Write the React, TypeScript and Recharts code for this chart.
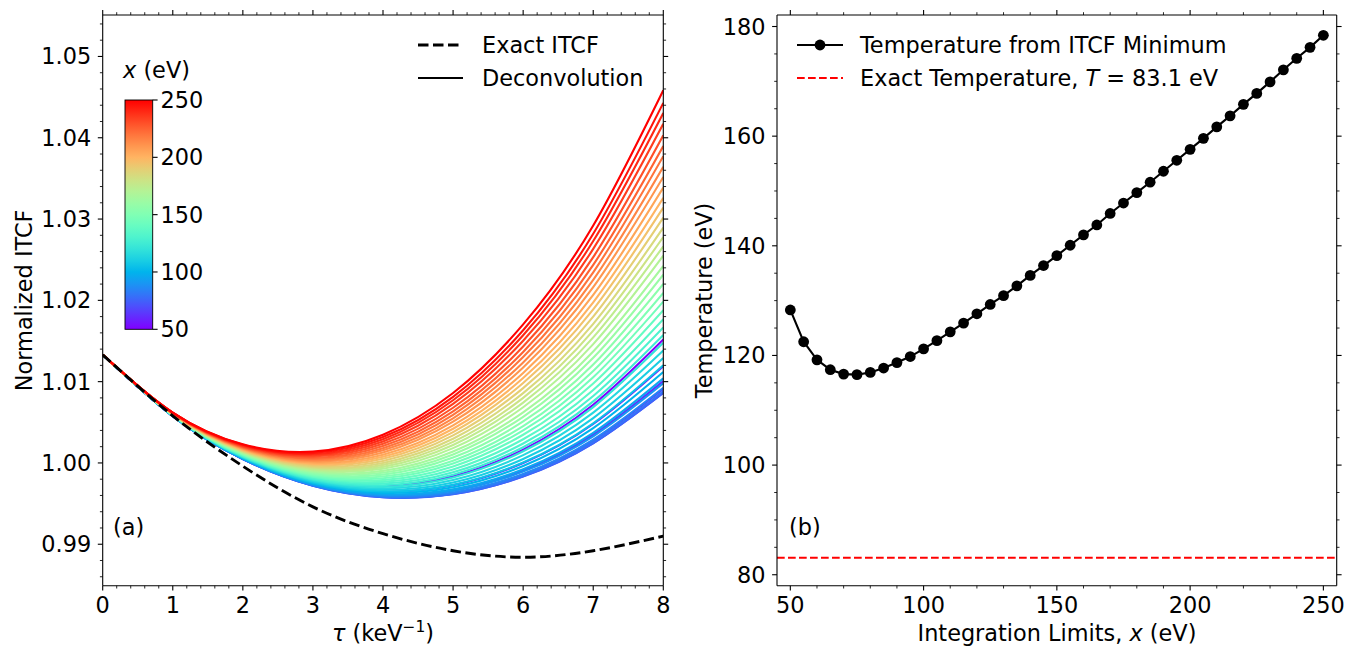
import React from 'react';
import { LineChart, Line, XAxis, YAxis, ReferenceLine } from 'recharts';

// ---- panel (a): normalized ITCF vs tau ----
const tau = [0, 1, 2, 3, 4, 5, 6, 7, 8];
const exactItcf = [1.0133, 1.0058, 0.9996, 0.9946, 0.9913, 0.9892, 0.9884, 0.9892, 0.991];

const dec50 = [1.0133, 1.00583, 1.00079, 0.99794, 0.99714, 0.99836, 1.00164, 1.00716, 1.01518];
const dec55 = [1.0133, 1.00579, 1.00063, 0.99757, 0.99646, 0.99726, 0.99999, 1.00479, 1.0119];
const dec60 = [1.0133, 1.00577, 1.00054, 0.99736, 0.99609, 0.99664, 0.99907, 1.00347, 1.01007];
const dec65 = [1.0133, 1.00575, 1.00049, 0.99725, 0.99588, 0.99631, 0.99857, 1.00276, 1.00909];
const dec70 = [1.0133, 1.00575, 1.00047, 0.9972, 0.99579, 0.99617, 0.99835, 1.00245, 1.00865];
const dec75 = [1.0133, 1.00575, 1.00047, 0.9972, 0.99578, 0.99615, 0.99832, 1.00241, 1.0086];
const dec80 = [1.0133, 1.00575, 1.00048, 0.99722, 0.99583, 0.99623, 0.99844, 1.00257, 1.00882];
const dec85 = [1.0133, 1.00576, 1.0005, 0.99727, 0.99592, 0.99637, 0.99865, 1.00288, 1.00925];
const dec90 = [1.0133, 1.00576, 1.00053, 0.99733, 0.99603, 0.99656, 0.99893, 1.00328, 1.0098];
const dec95 = [1.0133, 1.00577, 1.00055, 0.9974, 0.99615, 0.99675, 0.99923, 1.00371, 1.0104];
const dec100 = [1.0133, 1.00578, 1.00059, 0.99749, 0.99632, 0.99702, 0.99963, 1.00428, 1.01118];
const dec105 = [1.0133, 1.00579, 1.00063, 0.99758, 0.99649, 0.9973, 1.00005, 1.00487, 1.01201];
const dec110 = [1.0133, 1.0058, 1.00068, 0.99768, 0.99667, 0.99759, 1.00049, 1.00551, 1.0129];
const dec115 = [1.0133, 1.00581, 1.00072, 0.99779, 0.99686, 0.9979, 1.00096, 1.00618, 1.01382];
const dec120 = [1.0133, 1.00582, 1.00077, 0.9979, 0.99706, 0.99822, 1.00144, 1.00687, 1.01478];
const dec125 = [1.0133, 1.00583, 1.00082, 0.99801, 0.99726, 0.99855, 1.00193, 1.00757, 1.01575];
const dec130 = [1.0133, 1.00585, 1.00086, 0.99811, 0.99745, 0.99885, 1.00239, 1.00823, 1.01666];
const dec135 = [1.0133, 1.00586, 1.00091, 0.99823, 0.99767, 0.9992, 1.00291, 1.00898, 1.01769];
const dec140 = [1.0133, 1.00587, 1.00097, 0.99835, 0.99789, 0.99957, 1.00347, 1.00978, 1.0188];
const dec145 = [1.0133, 1.00589, 1.00102, 0.99847, 0.99811, 0.99993, 1.004, 1.01054, 1.01985];
const dec150 = [1.0133, 1.0059, 1.00107, 0.99859, 0.99833, 1.00028, 1.00453, 1.0113, 1.02091];
const dec155 = [1.0133, 1.00591, 1.00113, 0.99872, 0.99856, 1.00066, 1.0051, 1.01211, 1.02203];
const dec160 = [1.0133, 1.00593, 1.00119, 0.99885, 0.9988, 1.00104, 1.00568, 1.01293, 1.02317];
const dec165 = [1.0133, 1.00594, 1.00124, 0.99897, 0.99902, 1.0014, 1.00622, 1.01371, 1.02424];
const dec170 = [1.0133, 1.00595, 1.0013, 0.99911, 0.99928, 1.00182, 1.00685, 1.01462, 1.0255];
const dec175 = [1.0133, 1.00597, 1.00136, 0.99924, 0.99952, 1.0022, 1.00743, 1.01544, 1.02664];
const dec180 = [1.0133, 1.00598, 1.00141, 0.99937, 0.99976, 1.00259, 1.00801, 1.01628, 1.02779];
const dec185 = [1.0133, 1.006, 1.00147, 0.9995, 1.0, 1.00298, 1.00859, 1.01711, 1.02895];
const dec190 = [1.0133, 1.00601, 1.00153, 0.99964, 1.00025, 1.00339, 1.00921, 1.018, 1.03018];
const dec195 = [1.0133, 1.00603, 1.00159, 0.99978, 1.00051, 1.0038, 1.00983, 1.01889, 1.0314];
const dec200 = [1.0133, 1.00604, 1.00165, 0.99992, 1.00076, 1.00421, 1.01044, 1.01976, 1.03261];
const dec205 = [1.0133, 1.00606, 1.00171, 1.00006, 1.00102, 1.00463, 1.01107, 1.02066, 1.03386];
const dec210 = [1.0133, 1.00607, 1.00178, 1.00021, 1.00129, 1.00507, 1.01174, 1.02162, 1.03518];
const dec215 = [1.0133, 1.00609, 1.00184, 1.00035, 1.00155, 1.00549, 1.01237, 1.02252, 1.03643];
const dec220 = [1.0133, 1.0061, 1.0019, 1.0005, 1.00182, 1.00592, 1.01302, 1.02345, 1.03773];
const dec225 = [1.0133, 1.00612, 1.00197, 1.00064, 1.00208, 1.00635, 1.01366, 1.02436, 1.03898];
const dec230 = [1.0133, 1.00613, 1.00203, 1.00079, 1.00235, 1.00679, 1.01432, 1.02531, 1.0403];
const dec235 = [1.0133, 1.00615, 1.0021, 1.00095, 1.00264, 1.00726, 1.01503, 1.02633, 1.04172];
const dec240 = [1.0133, 1.00617, 1.00217, 1.0011, 1.00292, 1.00771, 1.01571, 1.0273, 1.04305];
const dec245 = [1.0133, 1.00618, 1.00223, 1.00124, 1.00318, 1.00813, 1.01633, 1.02819, 1.04429];
const dec250 = [1.0133, 1.0062, 1.0023, 1.0014, 1.00347, 1.0086, 1.01704, 1.02921, 1.04585];

const deconv: [number, number[]][] = [
  [50, dec50], [55, dec55], [60, dec60], [65, dec65], [70, dec70], [75, dec75], [80, dec80],
  [85, dec85], [90, dec90], [95, dec95], [100, dec100], [105, dec105], [110, dec110],
  [115, dec115], [120, dec120], [125, dec125], [130, dec130], [135, dec135], [140, dec140],
  [145, dec145], [150, dec150], [155, dec155], [160, dec160], [165, dec165], [170, dec170],
  [175, dec175], [180, dec180], [185, dec185], [190, dec190], [195, dec195], [200, dec200],
  [205, dec205], [210, dec210], [215, dec215], [220, dec220], [225, dec225], [230, dec230],
  [235, dec235], [240, dec240], [245, dec245], [250, dec250],
];

const tauTicks = [
  0, 0.2, 0.4, 0.6, 0.8, 1, 1.2, 1.4, 1.6, 1.8, 2, 2.2, 2.4, 2.6, 2.8, 3, 3.2, 3.4, 3.6, 3.8, 4,
  4.2, 4.4, 4.6, 4.8, 5, 5.2, 5.4, 5.6, 5.8, 6, 6.2, 6.4, 6.6, 6.8, 7, 7.2, 7.4, 7.6, 7.8, 8,
];
const tauMajor = [0, 1, 2, 3, 4, 5, 6, 7, 8];
const itcfTicks = [
  0.986, 0.988, 0.99, 0.992, 0.994, 0.996, 0.998, 1.0, 1.002, 1.004, 1.006, 1.008, 1.01, 1.012,
  1.014, 1.016, 1.018, 1.02, 1.022, 1.024, 1.026, 1.028, 1.03, 1.032, 1.034, 1.036, 1.038, 1.04,
  1.042, 1.044, 1.046, 1.048, 1.05, 1.052, 1.054,
];
const itcfMajor = [0.99, 1.0, 1.01, 1.02, 1.03, 1.04, 1.05];
const colorbarTicks = [50, 100, 150, 200, 250];

// ---- panel (b): temperature from ITCF minimum ----
const limits = [
  50, 55, 60, 65, 70, 75, 80, 85, 90, 95, 100, 105, 110, 115, 120, 125, 130, 135, 140, 145, 150,
  155, 160, 165, 170, 175, 180, 185, 190, 195, 200, 205, 210, 215, 220, 225, 230, 235, 240, 245, 250,
];
const tempMin = [
  128.3, 122.5, 119.2, 117.4, 116.6, 116.5, 116.9, 117.7, 118.7, 119.8, 121.2, 122.7, 124.3, 125.9,
  127.6, 129.3, 130.9, 132.7, 134.6, 136.4, 138.2, 140.1, 142.0, 143.8, 145.9, 147.8, 149.7, 151.6,
  153.6, 155.6, 157.6, 159.6, 161.7, 163.7, 165.8, 167.8, 169.9, 172.1, 174.2, 176.2, 178.4,
];
const exactTemp = 83.1;
const limitTicks = [50, 60, 70, 80, 90, 100, 110, 120, 130, 140, 150, 160, 170, 180, 190, 200, 210, 220, 230, 240, 250];
const limitMajor = [50, 100, 150, 200, 250];
const tempTicks = [80, 85, 90, 95, 100, 105, 110, 115, 120, 125, 130, 135, 140, 145, 150, 155, 160, 165, 170, 175, 180];
const tempMajor = [80, 100, 120, 140, 160, 180];

const FONT = '"DejaVu Sans", sans-serif';
const FS = 22.4;

// matplotlib "rainbow" colormap
function rainbow(t: number) {
  const cl = (v: number) => Math.max(0, Math.min(1, v));
  const r = cl(Math.abs(2 * t - 0.5));
  const g = cl(Math.sin(Math.PI * t));
  const b = cl(Math.cos((Math.PI * t) / 2));
  const h = (v: number) => Math.round(v * 255).toString(16).padStart(2, '0');
  return '#' + h(r) + h(g) + h(b);
}
const xColor = (x: number) => rainbow((x - 50) / 200);

type Side = 'bottom' | 'top' | 'left' | 'right';

function makeTick(side: Side, major: number[], fmt?: (v: number) => string) {
  return (props: any) => {
    const { x, y, payload } = props;
    const v = payload.value as number;
    const isMajor = major.some((m) => Math.abs(m - v) < 1e-9);
    const len = isMajor ? 4.9 : 2.8;
    const sw = isMajor ? 1.1 : 0.85;
    let x2 = x;
    let y2 = y;
    if (side === 'bottom') y2 = y + len;
    if (side === 'top') y2 = y - len;
    if (side === 'left') x2 = x - len;
    if (side === 'right') x2 = x + len;
    return (
      <g>
        <line x1={x} y1={y} x2={x2} y2={y2} stroke="#000" strokeWidth={sw} />
        {isMajor && fmt && side === 'bottom' && (
          <text x={x} y={y + 27} textAnchor="middle" fontFamily={FONT} fontSize={FS} fill="#000">
            {fmt(v)}
          </text>
        )}
        {isMajor && fmt && side === 'left' && (
          <text x={x - 11.5} y={y + 8} textAnchor="end" fontFamily={FONT} fontSize={FS} fill="#000">
            {fmt(v)}
          </text>
        )}
      </g>
    );
  };
}

const axisLine = { stroke: '#000', strokeWidth: 1.1 };

const itcfRows = tau.map((t, i) => {
  const row: Record<string, number> = { tau: t, exact: exactItcf[i] };
  deconv.forEach(([x, arr]) => {
    row['c' + x] = arr[i];
  });
  return row;
});

const tempRows = limits.map((x, i) => ({ x, t: tempMin[i] }));

// charts are shifted 30px up so the top axis band sits above the page edge
const CH = 678;
const AX = 30;

function PanelA() {
  const tauDomain: [number, number] = [0, 8];
  const yDomain: [number, number] = [0.9849, 1.0551];
  return (
    <LineChart width={740} height={CH} data={itcfRows} margin={{ top: 15, right: 16.7, bottom: 32.3, left: 42.7 }}>
      <XAxis xAxisId="b" dataKey="tau" type="number" domain={tauDomain} allowDataOverflow ticks={tauTicks}
        interval={0} height={AX} tickSize={0} tickMargin={0} tickLine={false} axisLine={axisLine}
        tick={makeTick('bottom', tauMajor, (v) => String(v))} />
      <XAxis xAxisId="t" orientation="top" dataKey="tau" type="number" domain={tauDomain} allowDataOverflow ticks={tauTicks}
        interval={0} height={AX} tickSize={0} tickMargin={0} tickLine={false} axisLine={axisLine}
        tick={makeTick('top', tauMajor)} />
      <YAxis yAxisId="l" type="number" domain={yDomain} allowDataOverflow ticks={itcfTicks}
        interval={0} width={60} tickSize={0} tickMargin={0} tickLine={false} axisLine={axisLine}
        tick={makeTick('left', itcfMajor, (v) => v.toFixed(2))} />
      <YAxis yAxisId="r" orientation="right" type="number" domain={yDomain} allowDataOverflow ticks={itcfTicks}
        interval={0} width={60} tickSize={0} tickMargin={0} tickLine={false} axisLine={axisLine}
        tick={makeTick('right', itcfMajor)} />
      <Line xAxisId="t" yAxisId="r" dataKey="exact" stroke="none" dot={false} activeDot={false} isAnimationActive={false} />
      {deconv.map(([x]) => (
        <Line key={x} xAxisId="b" yAxisId="l" type="natural" dataKey={'c' + x} stroke={xColor(x)}
          strokeWidth={2.1} dot={false} activeDot={false} isAnimationActive={false} />
      ))}
      <Line xAxisId="b" yAxisId="l" type="natural" dataKey="exact" stroke="#000" strokeWidth={2.9}
        strokeDasharray="10.5 4.5" dot={false} activeDot={false} isAnimationActive={false} />
    </LineChart>
  );
}

function PanelB() {
  const xDomain: [number, number] = [45, 255];
  const yDomain: [number, number] = [78.0, 182.1];
  return (
    <LineChart width={760} height={CH} data={tempRows} margin={{ top: 15, right: 3.3, bottom: 32.3, left: 77 }}>
      <XAxis xAxisId="b" dataKey="x" type="number" domain={xDomain} allowDataOverflow ticks={limitTicks}
        interval={0} height={AX} tickSize={0} tickMargin={0} tickLine={false} axisLine={axisLine}
        tick={makeTick('bottom', limitMajor, (v) => String(v))} />
      <XAxis xAxisId="t" orientation="top" dataKey="x" type="number" domain={xDomain} allowDataOverflow ticks={limitTicks}
        interval={0} height={AX} tickSize={0} tickMargin={0} tickLine={false} axisLine={axisLine}
        tick={makeTick('top', limitMajor)} />
      <YAxis yAxisId="l" type="number" domain={yDomain} allowDataOverflow ticks={tempTicks}
        interval={0} width={60} tickSize={0} tickMargin={0} tickLine={false} axisLine={axisLine}
        tick={makeTick('left', tempMajor, (v) => String(v))} />
      <YAxis yAxisId="r" orientation="right" type="number" domain={yDomain} allowDataOverflow ticks={tempTicks}
        interval={0} width={60} tickSize={0} tickMargin={0} tickLine={false} axisLine={axisLine}
        tick={makeTick('right', tempMajor)} />
      <Line xAxisId="t" yAxisId="r" dataKey="t" stroke="none" dot={false} activeDot={false} isAnimationActive={false} />
      <ReferenceLine xAxisId="b" yAxisId="l" y={exactTemp} stroke="#ff0000" strokeWidth={2.1} strokeDasharray="7.7 3.3" />
      <Line xAxisId="b" yAxisId="l" type="linear" dataKey="t" stroke="#000" strokeWidth={2.1}
        dot={{ r: 5.4, fill: '#000', stroke: '#000', strokeWidth: 0 }} activeDot={false} isAnimationActive={false} />
    </LineChart>
  );
}

function Overlay() {
  const cbTop = 100;
  const cbBottom = 329.3;
  const cbY = (v: number) => cbBottom - ((v - 50) / 200) * (cbBottom - cbTop);
  const stops = Array.from({ length: 21 }, (_, i) => i / 20);
  const txt = { fontFamily: FONT, fontSize: FS, fill: '#000' } as const;
  return (
    <svg width={1360} height={648} style={{ position: 'absolute', left: 0, top: 0, pointerEvents: 'none' }}>
      <defs>
        <linearGradient id="cbar" x1="0" y1="1" x2="0" y2="0">
          {stops.map((s) => (
            <stop key={s} offset={s} stopColor={rainbow(s)} />
          ))}
        </linearGradient>
      </defs>

      {/* axis titles */}
      <text {...txt} x={32} y={300.4} textAnchor="middle" transform="rotate(-90 32 300.4)">Normalized ITCF</text>
      <text {...txt} x={383} y={641} textAnchor="middle">
        <tspan fontStyle="italic">τ</tspan> (keV
        <tspan fontSize={15.5} dy={-9}>−1</tspan>
        <tspan dy={9}>)</tspan>
      </text>
      <text {...txt} x={712} y={300.4} textAnchor="middle" transform="rotate(-90 712 300.4)">Temperature (eV)</text>
      <text {...txt} x={1057} y={641} textAnchor="middle">
        Integration Limits, <tspan fontStyle="italic">x</tspan> (eV)
      </text>

      {/* panel labels */}
      <text {...txt} x={113} y={535}>(a)</text>
      <text {...txt} x={789} y={535}>(b)</text>

      {/* legend (a) */}
      <line x1={418} y1={45} x2={463} y2={45} stroke="#000" strokeWidth={2.9} strokeDasharray="10.5 4.5" />
      <text {...txt} x={482} y={53}>Exact ITCF</text>
      <line x1={418} y1={78} x2={463} y2={78} stroke="#000" strokeWidth={2.1} />
      <text {...txt} x={482} y={86}>Deconvolution</text>

      {/* legend (b) */}
      <line x1={797} y1={45} x2={843} y2={45} stroke="#000" strokeWidth={2.1} />
      <circle cx={820} cy={45} r={5.4} fill="#000" />
      <text {...txt} x={860} y={53}>Temperature from ITCF Minimum</text>
      <line x1={797} y1={78} x2={843} y2={78} stroke="#ff0000" strokeWidth={2.1} strokeDasharray="7.7 3.3" />
      <text {...txt} x={860} y={86}>
        Exact Temperature, <tspan fontStyle="italic">T</tspan> = 83.1 eV
      </text>

      {/* colorbar */}
      <text {...txt} x={123} y={78}>
        <tspan fontStyle="italic">x</tspan> (eV)
      </text>
      <rect x={125} y={cbTop} width={27.7} height={cbBottom - cbTop} fill="url(#cbar)" stroke="#000" strokeWidth={0.9} />
      {colorbarTicks.map((v) => (
        <g key={v}>
          <line x1={152.7} y1={cbY(v)} x2={157.6} y2={cbY(v)} stroke="#000" strokeWidth={1.1} />
          <text {...txt} x={160.5} y={cbY(v) + 8}>{v}</text>
        </g>
      ))}
    </svg>
  );
}

export default function App() {
  return (
    <div style={{ position: 'absolute', left: 0, top: 0, width: 1360, height: 648, background: '#fff', overflow: 'hidden' }}>
      <div style={{ position: 'absolute', left: 0, top: -AX }}>
        <PanelA />
      </div>
      <div style={{ position: 'absolute', left: 640, top: -AX }}>
        <PanelB />
      </div>
      <Overlay />
    </div>
  );
}
